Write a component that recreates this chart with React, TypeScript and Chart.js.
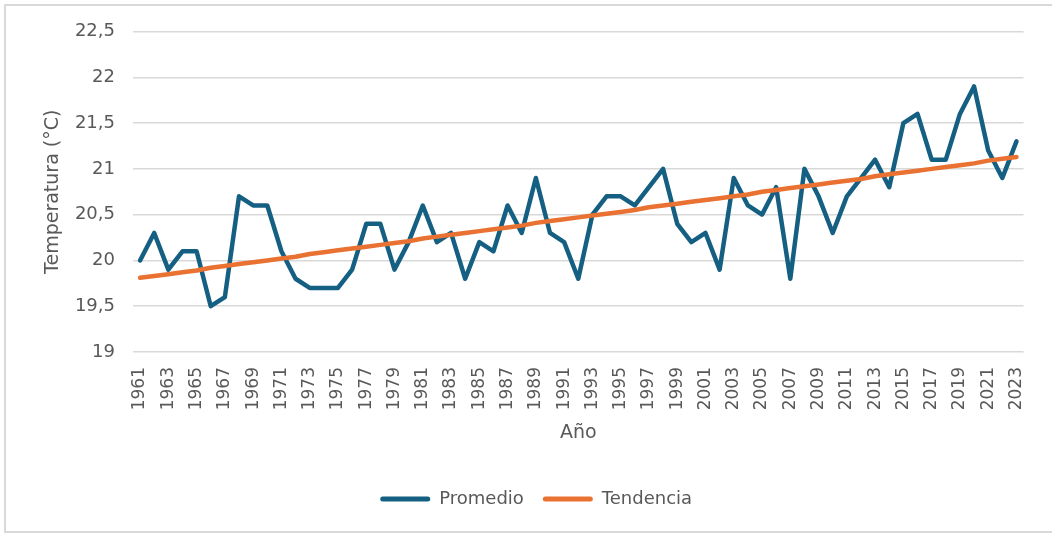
import React, { useEffect, useRef } from "react";
import { Chart, registerables } from "chart.js";

Chart.register(...registerables);

const years = [
  "1961", "1962", "1963", "1964", "1965", "1966", "1967", "1968", "1969", "1970",
  "1971", "1972", "1973", "1974", "1975", "1976", "1977", "1978", "1979", "1980",
  "1981", "1982", "1983", "1984", "1985", "1986", "1987", "1988", "1989", "1990",
  "1991", "1992", "1993", "1994", "1995", "1996", "1997", "1998", "1999", "2000",
  "2001", "2002", "2003", "2004", "2005", "2006", "2007", "2008", "2009", "2010",
  "2011", "2012", "2013", "2014", "2015", "2016", "2017", "2018", "2019", "2020",
  "2021", "2022", "2023",
];

const promedio = [
  20.0, 20.3, 19.9, 20.1, 20.1, 19.5, 19.6, 20.7, 20.6, 20.6,
  20.1, 19.8, 19.7, 19.7, 19.7, 19.9, 20.4, 20.4, 19.9, 20.2,
  20.6, 20.2, 20.3, 19.8, 20.2, 20.1, 20.6, 20.3, 20.9, 20.3,
  20.2, 19.8, 20.5, 20.7, 20.7, 20.6, 20.8, 21.0, 20.4, 20.2,
  20.3, 19.9, 20.9, 20.6, 20.5, 20.8, 19.8, 21.0, 20.7, 20.3,
  20.7, 20.9, 21.1, 20.8, 21.5, 21.6, 21.1, 21.1, 21.6, 21.9,
  21.2, 20.9, 21.3,
];

const tendencia = [
  19.81, 19.83, 19.85, 19.87, 19.89, 19.92, 19.94, 19.96, 19.98, 20.0,
  20.02, 20.04, 20.07, 20.09, 20.11, 20.13, 20.15, 20.17, 20.19, 20.21,
  20.24, 20.26, 20.28, 20.3, 20.32, 20.34, 20.36, 20.38, 20.41, 20.43,
  20.45, 20.47, 20.49, 20.51, 20.53, 20.55, 20.58, 20.6, 20.62, 20.64,
  20.66, 20.68, 20.7, 20.72, 20.75, 20.77, 20.79, 20.81, 20.83, 20.85,
  20.87, 20.89, 20.92, 20.94, 20.96, 20.98, 21.0, 21.02, 21.04, 21.06,
  21.09, 21.11, 21.13,
];

const yMin = 19;
const yMax = 22.5;
const yStep = 0.5;

const BLUE = "#156082";
const ORANGE = "#E97132";
const TEXT = "#595959";
const GRID = "#d9d9d9";
const FONT = "'DejaVu Sans', sans-serif";

export default function App() {
  const ref = useRef<HTMLCanvasElement | null>(null);

  useEffect(() => {
    if (!ref.current) return;
    const chart = new Chart(ref.current, {
      type: "line",
      data: {
        labels: years,
        datasets: [
          {
            label: "Promedio",
            data: promedio,
            borderColor: BLUE,
            backgroundColor: BLUE,
            borderWidth: 4.5,
            pointRadius: 0,
            pointHoverRadius: 0,
            tension: 0,
            borderJoinStyle: "round",
            borderCapStyle: "round",
            order: 2,
          },
          {
            label: "Tendencia",
            data: tendencia,
            borderColor: ORANGE,
            backgroundColor: ORANGE,
            borderWidth: 4.5,
            pointRadius: 0,
            pointHoverRadius: 0,
            tension: 0,
            borderJoinStyle: "round",
            borderCapStyle: "round",
            order: 1,
          },
        ],
      },
      options: {
        responsive: false,
        animation: false,
        layout: { padding: { top: 31.5, left: 37.3, right: 17, bottom: 15 } },
        plugins: {
          tooltip: { enabled: false },
          legend: {
            position: "bottom",
            labels: {
              boxWidth: 50,
              boxHeight: 5,
              useBorderRadius: true,
              borderRadius: 2.5,
              padding: 19,
              color: TEXT,
              font: { family: FONT, size: 18 },
              sort: (a: any, b: any) => a.datasetIndex - b.datasetIndex,
              generateLabels: (c: any) =>
                (Chart.defaults.plugins.legend.labels.generateLabels as any)(c).map((l: any) => ({
                  ...l,
                  lineWidth: 0,
                })),
            },
          },
        },
        scales: {
          x: {
            type: "category",
            offset: true,
            grid: { display: false, drawTicks: false, tickLength: 0 },
            border: { display: false },
            ticks: {
              autoSkip: false,
              minRotation: 90,
              maxRotation: 90,
              padding: 15,
              color: TEXT,
              font: { family: FONT, size: 17 },
              callback: (_v: any, i: number) => (i % 2 === 0 ? years[i] : ""),
            },
            title: {
              display: true,
              text: "Año",
              color: TEXT,
              font: { family: FONT, size: 19 },
              padding: { top: 4, bottom: 26.6 },
            },
            afterFit: (s: any) => {
              s.height = 119;
            },
          },
          y: {
            min: yMin,
            max: yMax,
            grid: { color: GRID, lineWidth: 1.5, drawTicks: false, tickLength: 0 },
            border: { display: false },
            ticks: {
              stepSize: yStep,
              padding: 18,
              color: TEXT,
              font: { family: FONT, size: 18 },
              callback: (v: any) => String(v).replace(".", ","),
            },
            title: {
              display: true,
              text: "Temperatura (°C)",
              color: TEXT,
              font: { family: FONT, size: 19 },
              padding: { top: 4, bottom: 4 },
            },
            afterFit: (s: any) => {
              s.width = 95.7;
            },
          },
        },
      },
    } as any);
    return () => chart.destroy();
  }, []);

  return (
    <div
      style={{
        position: "absolute",
        left: 0,
        top: 0,
        width: 1052,
        height: 533,
        overflow: "hidden",
        background: "#ffffff",
      }}
    >
      <div
        style={{
          position: "absolute",
          left: 4,
          top: 4,
          width: 1100,
          height: 529,
          boxSizing: "border-box",
          border: "2px solid #d9d9d9",
        }}
      />
      <canvas
        ref={ref}
        width={1052}
        height={533}
        style={{ position: "absolute", left: 0, top: 0, width: 1052, height: 533 }}
      />
    </div>
  );
}
